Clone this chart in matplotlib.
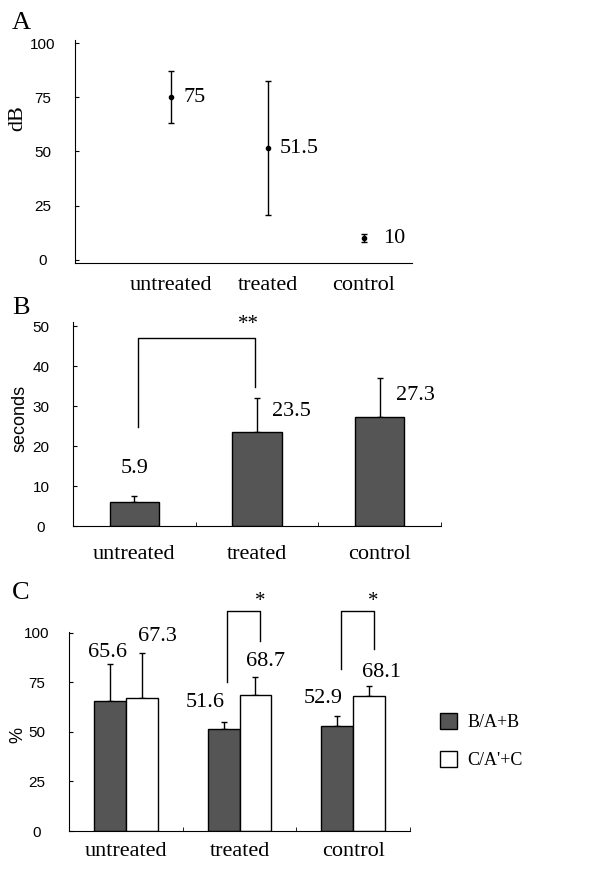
import matplotlib

matplotlib.use("Agg")
import matplotlib.pyplot as plt
from matplotlib.patches import Patch

# ---- data ------------------------------------------------------------
groups = ["untreated", "treated", "control"]

# A: hearing threshold (dB), mean +/- error
db_mean = [75, 51.5, 10]
db_err = [12, 31, 2]
db_text = ["75", "51.5", "10"]

# B: seconds
sec_mean = [5.9, 23.5, 27.3]
sec_err = [1.6, 8.5, 9.7]

# C: percentages
pct_b = [65.6, 51.6, 52.9]      # B/A+B
pct_b_err = [18.7, 3.4, 5.0]
pct_c = [67.3, 68.7, 68.1]      # C/A'+C
pct_c_err = [22.7, 9.1, 5.0]
legend_labels = ["B/A+B", "C/A'+C"]

SERIF = "Liberation Serif"
SANS = "Liberation Sans"
DARK = "#555555"

W, H = 610, 871
fig = plt.figure(figsize=(W / 100, H / 100), dpi=100)


def box(left, right, top, bottom):
    return [left / W, 1 - bottom / H, (right - left) / W, (bottom - top) / H]


def style(ax, ylim, yticks, pad):
    ax.set_ylim(*ylim)
    ax.set_yticks(yticks)
    ax.spines[["top", "right"]].set_visible(False)
    ax.tick_params(axis="y", direction="in", length=3, labelsize=11, pad=23)
    for t in ax.get_yticklabels():
        t.set_fontfamily(SANS)
        t.set_horizontalalignment("center")
    ax.set_xticks(range(len(groups)))
    ax.set_xticklabels(groups, fontfamily=SERIF, fontsize=16)
    ax.tick_params(axis="x", length=0, pad=pad)


# ---- A ---------------------------------------------------------------
axA = fig.add_axes(box(75, 412, 40, 263))
x = range(len(groups))
axA.errorbar(x, db_mean, yerr=db_err, fmt="o", ms=3, color="black",
             ecolor="black", elinewidth=1, capsize=2.5, capthick=1)
for xi, m, s in zip(x, db_mean, db_text):
    dx = 14 if xi == 2 else 9
    axA.annotate(s, (xi, m), textcoords="offset points", xytext=(dx, 0),
                 va="center", ha="left", fontfamily=SERIF, fontsize=16)
axA.set_xlim(-1, 2.5)
style(axA, (-1.5, 101.5), [0, 25, 50, 75, 100], pad=9)
fig.text(18 / W, 1 - 118 / H, "dB", rotation=90, va="center", ha="center",
         fontfamily=SERIF, fontsize=16)
fig.text(12 / W, 1 - 23 / H, "A", va="center", ha="left",
         fontfamily=SERIF, fontsize=19)

# ---- B ---------------------------------------------------------------
axB = fig.add_axes(box(73, 441, 322, 526))
axB.bar(x, sec_mean, width=0.4, color=DARK, edgecolor="black", lw=1, zorder=2)
axB.errorbar(x, sec_mean, yerr=[[0] * 3, sec_err], fmt="none", ecolor="black",
             elinewidth=1, capsize=2.5, capthick=1, zorder=1)
b_off = [(0, 20), (25, 15), (26, 15)]
for xi, m, e, off in zip(x, sec_mean, sec_err, b_off):
    base = m + e if xi == 0 else m
    axB.annotate(f"{m}", (xi, base), textcoords="offset points", xytext=off,
                 va="center", ha="center", fontfamily=SERIF, fontsize=16)
axB.plot([0.03, 0.03, 0.98, 0.98], [24.7, 47, 47, 34.7], color="black", lw=1)
axB.text(0.93, 50.3, "**", ha="center", va="center", fontfamily=SERIF, fontsize=15)
axB.set_xlim(-0.5, 2.5)
style(axB, (0, 51), [0, 10, 20, 30, 40, 50], pad=14)
axB.set_xticks([0.5, 1.5, 2.5], minor=True)
axB.tick_params(axis="x", which="minor", direction="in", length=3)
fig.text(20 / W, 1 - 418 / H, "seconds", rotation=90, va="center", ha="center",
         fontfamily=SANS, fontsize=13)
fig.text(12 / W, 1 - 308 / H, "B", va="center", ha="left",
         fontfamily=SERIF, fontsize=19)

# ---- C ---------------------------------------------------------------
axC = fig.add_axes(box(69, 410, 632, 831))
bw = 0.28
xb = [i - bw / 2 for i in x]
xc = [i + bw / 2 for i in x]
axC.bar(xb, pct_b, width=bw, color=DARK, edgecolor="black", lw=1, zorder=2,
        label=legend_labels[0])
axC.bar(xc, pct_c, width=bw, color="white", edgecolor="black", lw=1, zorder=2,
        label=legend_labels[1])
axC.errorbar(xb, pct_b, yerr=[[0] * 3, pct_b_err], fmt="none", ecolor="black",
             elinewidth=1, capsize=2.5, capthick=1, zorder=1)
axC.errorbar(xc, pct_c, yerr=[[0] * 3, pct_c_err], fmt="none", ecolor="black",
             elinewidth=1, capsize=2.5, capthick=1, zorder=1)
c_off_b = [(-2, 35), (-13, 19), (-10, 20)]
c_off_c = [(11, 44), (7, 24), (9, 17)]
for xi, m, off in zip(xb, pct_b, c_off_b):
    axC.annotate(f"{m}", (xi, m), textcoords="offset points", xytext=off,
                 va="center", ha="center", fontfamily=SERIF, fontsize=16)
for xi, m, off in zip(xc, pct_c, c_off_c):
    axC.annotate(f"{m}", (xi, m), textcoords="offset points", xytext=off,
                 va="center", ha="center", fontfamily=SERIF, fontsize=16)
# significance brackets
for i, (lo, hi) in zip([1, 2], [(75, 96), (82, 92)]):
    axC.plot([xb[i] + 0.03, xb[i] + 0.03, xc[i] + 0.04, xc[i] + 0.04],
             [lo, 111, 111, hi], color="black", lw=1, clip_on=False)
    axC.text(xc[i] + 0.04, 116, "*", ha="center", va="center",
             fontfamily=SERIF, fontsize=15)
axC.set_xlim(-0.5, 2.5)
style(axC, (0, 100.5), [0, 25, 50, 75, 100], pad=8)
axC.set_xticks([0.5, 1.5, 2.5], minor=True)
axC.tick_params(axis="x", which="minor", direction="in", length=3)
fig.text(18 / W, 1 - 735 / H, "%", rotation=90, va="center", ha="center",
         fontfamily=SANS, fontsize=13)
fig.text(12 / W, 1 - 593 / H, "C", va="center", ha="left",
         fontfamily=SERIF, fontsize=19)

handles = [Patch(facecolor=DARK, edgecolor="black", lw=1),
           Patch(facecolor="white", edgecolor="black", lw=1)]
fig.legend(handles, legend_labels, loc="center left",
           bbox_to_anchor=(424 / W, 1 - 741 / H), frameon=False,
           prop={"family": SERIF, "size": 13}, handlelength=0.95,
           handleheight=1.0, labelspacing=1.1, handletextpad=0.55)

fig.savefig("out.png", dpi=100)
